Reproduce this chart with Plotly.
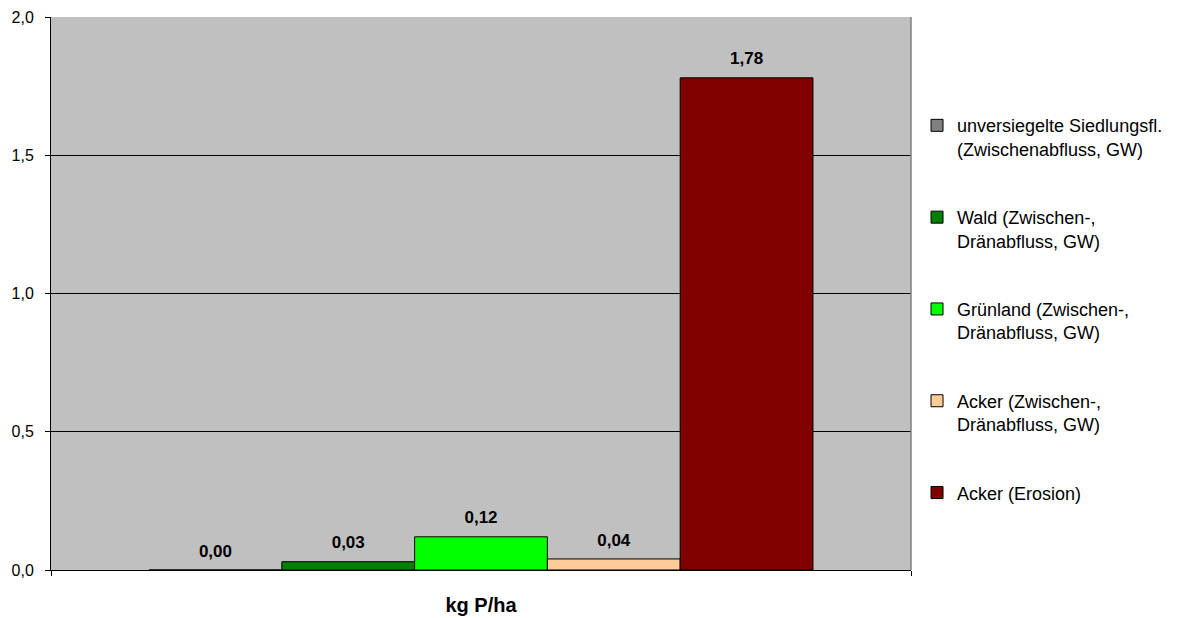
import plotly.graph_objects as go

# Phosphorus export per land-use source (kg P/ha)
category = ["kg P/ha"]
sources = [
    "unversiegelte Siedlungsfl.<br>(Zwischenabfluss, GW)",
    "Wald (Zwischen-,<br>Dränabfluss, GW)",
    "Grünland (Zwischen-,<br>Dränabfluss, GW)",
    "Acker (Zwischen-,<br>Dränabfluss, GW)",
    "Acker (Erosion)",
]
values = [0.00, 0.03, 0.12, 0.04, 1.78]
colors = ["#808080", "#008000", "#00FF00", "#FFCC99", "#800000"]

FONT = "Liberation Sans, Arial, sans-serif"

fig = go.Figure()
for i, (name, val, col) in enumerate(zip(sources, values, colors)):
    fig.add_trace(go.Bar(
        x=category,
        y=[val],
        name=name,
        legendgroup=f"g{i}",
        offsetgroup=f"g{i}",
        marker=dict(color=col, line=dict(color="#000000", width=1)),
    ))

# value labels, grouped the same way as the bars so each sits over its bar
for i, val in enumerate(values):
    fig.add_trace(go.Scatter(
        x=category,
        y=[val],
        mode="markers+text",
        offsetgroup=f"g{i}",
        marker=dict(size=13, opacity=0),
        texttemplate="%{y:.2f}",
        textposition="top center",
        textfont=dict(family=FONT, size=17, color="#000000", weight="bold"),
        showlegend=False,
        hoverinfo="skip",
        cliponaxis=False,
    ))

fig.update_layout(
    width=1179,
    height=618,
    margin=dict(l=51, r=268, t=17, b=48, autoexpand=False),
    paper_bgcolor="#FFFFFF",
    plot_bgcolor="#C0C0C0",
    separators=",.",
    barmode="group",
    bargap=0.228,
    bargroupgap=0,
    scattermode="group",
    scattergap=0.228,
    font=dict(family=FONT, size=16, color="#000000"),
    showlegend=True,
    legend=dict(
        x=1.007, xanchor="left",
        y=0.837, yanchor="top",
        valign="top",
        tracegroupgap=42,
        font=dict(family=FONT, size=18, color="#000000"),
        bgcolor="rgba(0,0,0,0)",
    ),
    xaxis=dict(
        type="category",
        automargin=False,
        showline=True, linecolor="#000000", linewidth=1,
        ticks="outside", tickson="boundaries", ticklen=5, tickcolor="#000000",
        tickfont=dict(family=FONT, size=20, color="#000000", weight="bold"),
        ticklabelstandoff=17,
        showgrid=False,
    ),
    yaxis=dict(
        range=[0, 2.0],
        dtick=0.5,
        tickformat=".1f",
        automargin=False,
        showline=True, linecolor="#000000", linewidth=1,
        ticks="outside", ticklen=5, tickcolor="#000000",
        tickfont=dict(family=FONT, size=16, color="#000000"),
        ticklabelstandoff=8,
        showgrid=True, gridcolor="#000000", gridwidth=1,
        zeroline=False,
    ),
    shapes=[
        dict(type="line", xref="paper", yref="paper", x0=1, x1=1, y0=0, y1=1,
             line=dict(color="#808080", width=1.5)),
    ],
)

fig.write_html("out.html")
